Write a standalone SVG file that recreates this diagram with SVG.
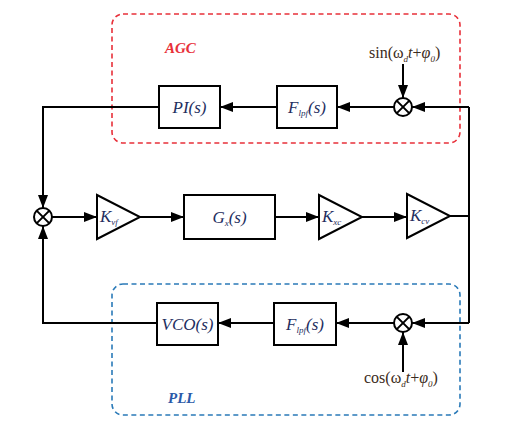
<svg xmlns="http://www.w3.org/2000/svg" width="522" height="425" viewBox="0 0 522 425">
<defs>
<marker id="ah" markerUnits="userSpaceOnUse" markerWidth="14" markerHeight="10" refX="13" refY="5" orient="auto">
<path d="M0,0 L13,5 L0,10 z" fill="#000"/>
</marker>
<style>
.blk{fill:#fff;stroke:#000;stroke-width:2}
.ln{fill:none;stroke:#000;stroke-width:2}
.ar{fill:none;stroke:#000;stroke-width:2;marker-end:url(#ah)}
.lbl{font-family:"Liberation Serif",serif;font-style:italic;font-size:17px;fill:#1f2f5f}
.sub{font-size:9px}
.sig{font-family:"Liberation Serif",serif;font-size:16px;fill:#3b2b20}
.grpA{fill:none;stroke:#e8303a;stroke-width:1.6;stroke-dasharray:5,3.5}
.grpP{fill:none;stroke:#2a7ab8;stroke-width:1.6;stroke-dasharray:5,3.5}
</style>
</defs>
<rect width="522" height="425" fill="#fff"/>

<g id="agc-group">
<rect class="grpA" x="112" y="14" width="348" height="129" rx="11"/>
<text x="165" y="53" font-family="Liberation Serif,serif" font-style="italic" font-weight="bold" font-size="15" fill="#e8303a">AGC</text>
</g>
<g id="pll-group">
<rect class="grpP" x="112" y="284" width="348" height="131" rx="11"/>
<text x="168" y="403" font-family="Liberation Serif,serif" font-style="italic" font-weight="bold" font-size="15" fill="#2a5aa8">PLL</text>
</g>

<g id="connectors">
<path class="ln" d="M450,216 H469"/>
<path class="ln" d="M469,107 V323"/>
<path class="ar" d="M469,107 H412"/>
<path class="ar" d="M469,323 H412"/>
<path class="ar" d="M394,107 H337"/>
<path class="ar" d="M277,107 H220"/>
<path class="ar" d="M159,107 H43 V208"/>
<path class="ar" d="M403,64 V98"/>
<path class="ar" d="M403,372 V332"/>
<path class="ar" d="M52,217 H97"/>
<path class="ar" d="M140,217 H184"/>
<path class="ar" d="M275,217 H319"/>
<path class="ar" d="M362,217 H407"/>
<path class="ar" d="M157,323 H43 V226"/>
<path class="ar" d="M394,323 H336"/>
<path class="ar" d="M274,323 H218"/>
</g>

<g id="sum">
<circle cx="43" cy="217" r="9" class="blk"/>
<path class="ln" d="M36.6,210.6 L49.4,223.4 M49.4,210.6 L36.6,223.4"/>
</g>
<g id="mult-agc">
<circle cx="403" cy="107" r="9" class="blk"/>
<path class="ln" d="M396.6,100.6 L409.4,113.4 M409.4,100.6 L396.6,113.4"/>
</g>
<g id="mult-pll">
<circle cx="403" cy="323" r="9" class="blk"/>
<path class="ln" d="M396.6,316.6 L409.4,329.4 M409.4,316.6 L396.6,329.4"/>
</g>

<g id="sin-label">
<text class="sig" x="369" y="58">sin(ω<tspan class="sub" font-style="italic" dy="4">d</tspan><tspan font-style="italic" dy="-4">t</tspan>+<tspan font-style="italic">φ</tspan><tspan class="sub" font-style="italic" dy="4">0</tspan><tspan dy="-4">)</tspan></text>
</g>
<g id="cos-label">
<text class="sig" x="364" y="383">cos(ω<tspan class="sub" font-style="italic" dy="4">d</tspan><tspan font-style="italic" dy="-4">t</tspan>+<tspan font-style="italic">φ</tspan><tspan class="sub" font-style="italic" dy="4">0</tspan><tspan dy="-4">)</tspan></text>
</g>

<g id="pi">
<rect class="blk" x="159" y="86" width="61" height="42"/>
<text class="lbl" x="189.5" y="113" text-anchor="middle">PI(s)</text>
</g>
<g id="flpf-agc">
<rect class="blk" x="277" y="86" width="60" height="42"/>
<text class="lbl" x="307" y="113" text-anchor="middle">F<tspan class="sub" dy="3">lpf</tspan><tspan dy="-3">(s)</tspan></text>
</g>
<g id="kvf">
<path class="blk" d="M97,195 L140,217 L97,239 z"/>
<text class="lbl" x="100" y="222">K<tspan class="sub" dy="3">vf</tspan></text>
</g>
<g id="gx">
<rect class="blk" x="184" y="195" width="91" height="44"/>
<text class="lbl" x="229.5" y="223" text-anchor="middle">G<tspan class="sub" dy="3">x</tspan><tspan dy="-3">(s)</tspan></text>
</g>
<g id="kxc">
<path class="blk" d="M319,195 L362,217 L319,239 z"/>
<text class="lbl" x="322" y="222">K<tspan class="sub" dy="3">xc</tspan></text>
</g>
<g id="kcv">
<path class="blk" d="M407,194 L450,216 L407,238 z"/>
<text class="lbl" x="410" y="221">K<tspan class="sub" dy="3">cv</tspan></text>
</g>
<g id="vco">
<rect class="blk" x="157" y="303" width="61" height="42"/>
<text class="lbl" x="187.5" y="330" text-anchor="middle">VCO(s)</text>
</g>
<g id="flpf-pll">
<rect class="blk" x="274" y="303" width="62" height="42"/>
<text class="lbl" x="305" y="330" text-anchor="middle">F<tspan class="sub" dy="3">lpf</tspan><tspan dy="-3">(s)</tspan></text>
</g>
</svg>
